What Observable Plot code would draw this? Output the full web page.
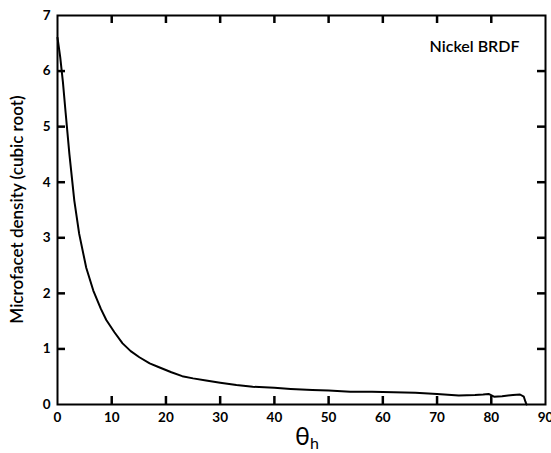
<!DOCTYPE html>
<html>
<head>
<meta charset="utf-8">
<script src="https://cdn.jsdelivr.net/npm/d3@7"></script>
<script src="https://cdn.jsdelivr.net/npm/@observablehq/plot@0.6"></script>
<style>
  html, body { margin: 0; padding: 0; background: #fff; }
  #chart { position: relative; width: 551px; height: 453px; }
</style>
</head>
<body>
<div id="chart"></div>
<script>
// Curve samples: θh (degrees) and microfacet density (cubic root)
const thetaH = [0, 0.5, 1.0, 1.5, 2.2, 3.1, 4.0, 5.3, 6.6, 8.0, 9.0, 10.5, 12.0, 13.5, 15.1, 17, 18.5, 21, 23, 25, 27.4, 30, 33, 36, 40, 43, 47, 50, 54, 58, 62, 66, 70, 74, 77, 78.5, 79.5, 80.5, 82, 84, 85.3, 86, 86.3, 86.5];
const density = [6.6, 6.25, 5.8, 5.25, 4.5, 3.67, 3.07, 2.46, 2.05, 1.72, 1.52, 1.3, 1.1, 0.96, 0.85, 0.74, 0.68, 0.58, 0.51, 0.47, 0.43, 0.39, 0.35, 0.32, 0.30, 0.28, 0.26, 0.25, 0.23, 0.23, 0.22, 0.21, 0.19, 0.16, 0.17, 0.18, 0.19, 0.14, 0.15, 0.17, 0.18, 0.14, 0.05, 0];

const xTickLabels = [0, 10, 20, 30, 40, 50, 60, 70, 80, 90];
const xTickMarks = [10, 20, 30, 40, 50, 60, 70, 80];
const yTickLabels = [0, 1, 2, 3, 4, 5, 6, 7];
const yTickMarks = [1, 2, 3, 4, 5, 6];
const yLabel = "Microfacet density (cubic root)";
const annotation = "Nickel BRDF";

const data = thetaH.map((t, i) => ({t, d: density[i]}));

const FONT = "Lato, 'Open Sans', sans-serif";
const W = 551, H = 453, ML = 57, MR = 6, MT = 15, MB = 49;
const FW = W - ML - MR, FH = H - MT - MB, TK = 8;

const chart = Plot.plot({
  width: W,
  height: H,
  marginLeft: ML,
  marginRight: MR,
  marginTop: MT,
  marginBottom: MB,
  style: {fontFamily: FONT, background: "#fff", color: "#000"},
  x: {domain: [0, 90]},
  y: {domain: [0, 7]},
  marks: [
    // tick labels
    Plot.axisX(xTickLabels, {anchor: "bottom", tickSize: 0, tickPadding: 8, tickFormat: "d", fontSize: 13.5, fontWeight: "bold", fill: "#000", label: null}),
    Plot.axisY(yTickLabels, {anchor: "left", tickSize: 0, tickPadding: 7, tickFormat: "d", fontSize: 13.5, fontWeight: "bold", fill: "#000", label: null}),
    Plot.line(data, {x: "t", y: "d", stroke: "#000", strokeWidth: 2}),
    Plot.frame({stroke: "#000", strokeWidth: 2}),
    // inward tick marks on all four sides
    Plot.ruleX(xTickMarks, {x: d => d, stroke: "#000", strokeWidth: 2.5, insetTop: FH - TK}),
    Plot.ruleX(xTickMarks, {x: d => d, stroke: "#000", strokeWidth: 2.5, insetBottom: FH - TK}),
    Plot.ruleY(yTickMarks, {y: d => d, stroke: "#000", strokeWidth: 2.5, insetRight: FW - TK}),
    Plot.ruleY(yTickMarks, {y: d => d, stroke: "#000", strokeWidth: 2.5, insetLeft: FW - TK}),
    Plot.text([annotation], {frameAnchor: "top-right", dx: -26, dy: 25, fontSize: 16, fontWeight: 600, fill: "#000"})
  ]
});

const svg = d3.select(chart);
// y-axis title
svg.append("text")
  .attr("transform", `translate(19,${(MT + H - MB) / 2}) rotate(-90)`)
  .attr("text-anchor", "middle")
  .attr("dominant-baseline", "middle")
  .attr("font-family", FONT)
  .attr("font-size", 17)
  .attr("font-weight", 600)
  .attr("fill", "#000")
  .text(yLabel);
// x-axis title θh
const xt = svg.append("text")
  .attr("x", 307)
  .attr("y", 445)
  .attr("text-anchor", "middle")
  .attr("font-family", FONT)
  .attr("font-size", 25)
  .attr("fill", "#000");
xt.append("tspan").text("θ");
xt.append("tspan").attr("font-size", 16).attr("dy", 4).text("h");

document.getElementById("chart").appendChild(chart);
</script>
</body>
</html>
